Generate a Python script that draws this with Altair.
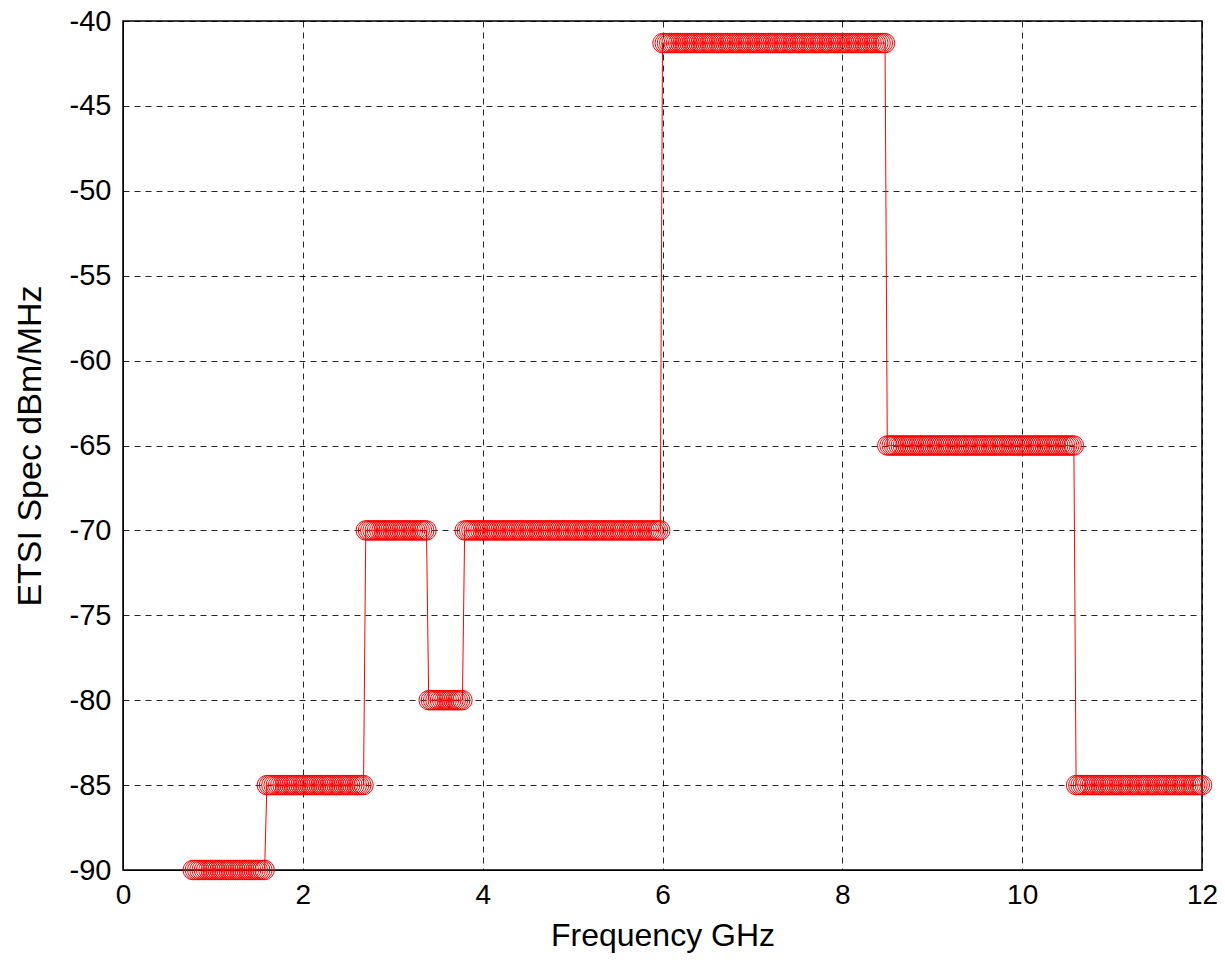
import altair as alt
import pandas as pd

# Step segments: start GHz, end GHz (inclusive), level dBm/MHz
seg_start = [0.775, 1.600, 2.700, 3.400, 3.800, 6.000, 8.500, 10.600]
seg_end   = [1.575, 2.675, 3.375, 3.775, 5.975, 8.475, 10.575, 12.000]
seg_level = [-90.0, -85.0, -70.0, -80.0, -70.0, -41.3, -65.0, -85.0]
step_ghz = 0.025  # marker spacing

x_ticks = [0, 2, 4, 6, 8, 10, 12]
y_ticks = [-90, -85, -80, -75, -70, -65, -60, -55, -50, -45, -40]

freqs, levels = [], []
for s, e, lv in zip(seg_start, seg_end, seg_level):
    n = int(round((e - s) / step_ghz)) + 1
    for i in range(n):
        freqs.append(round(s + i * step_ghz, 4))
        levels.append(lv)
df = pd.DataFrame({"f": freqs, "p": levels, "i": range(len(freqs))})

FONT = "Liberation Sans"
common = dict(labelFont=FONT, titleFont=FONT, labelColor="black", titleColor="black",
              titleFontWeight="normal", ticks=False, domainColor="black",
              gridColor="black", gridDash=[6, 5], gridOpacity=0.85, labelFlush=False,
              labelExpr="'' + datum.value")

x = alt.X("f:Q", scale=alt.Scale(domain=[0, 12], nice=False, zero=False),
          axis=alt.Axis(values=x_ticks, title="Frequency GHz", labelFontSize=28,
                        titleFontSize=32, labelPadding=11, titlePadding=11, **common))
y = alt.Y("p:Q", scale=alt.Scale(domain=[-90, -40], nice=False, zero=False),
          axis=alt.Axis(values=y_ticks, title="ETSI Spec dBm/MHz", labelFontSize=29,
                        titleFontSize=34, labelPadding=12, titlePadding=22, **common))

base = alt.Chart(df)
line = base.mark_line(color="red", strokeWidth=1, clip=True).encode(x=x, y=y, order="i:Q")
pts = base.mark_point(shape="circle", filled=False, color="red", size=380,
                      strokeWidth=1, opacity=1).encode(x=x, y=y)

chart = alt.layer(line, pts).properties(
    width=1079, height=849,
    autosize=alt.AutoSizeParams(type="none"),
    padding={"left": 115, "top": 13, "right": 15, "bottom": 84},
    background="white",
).configure_view(stroke="black", strokeWidth=1.5)

chart.save("out.html", embed_options={"renderer": "svg", "actions": False})
